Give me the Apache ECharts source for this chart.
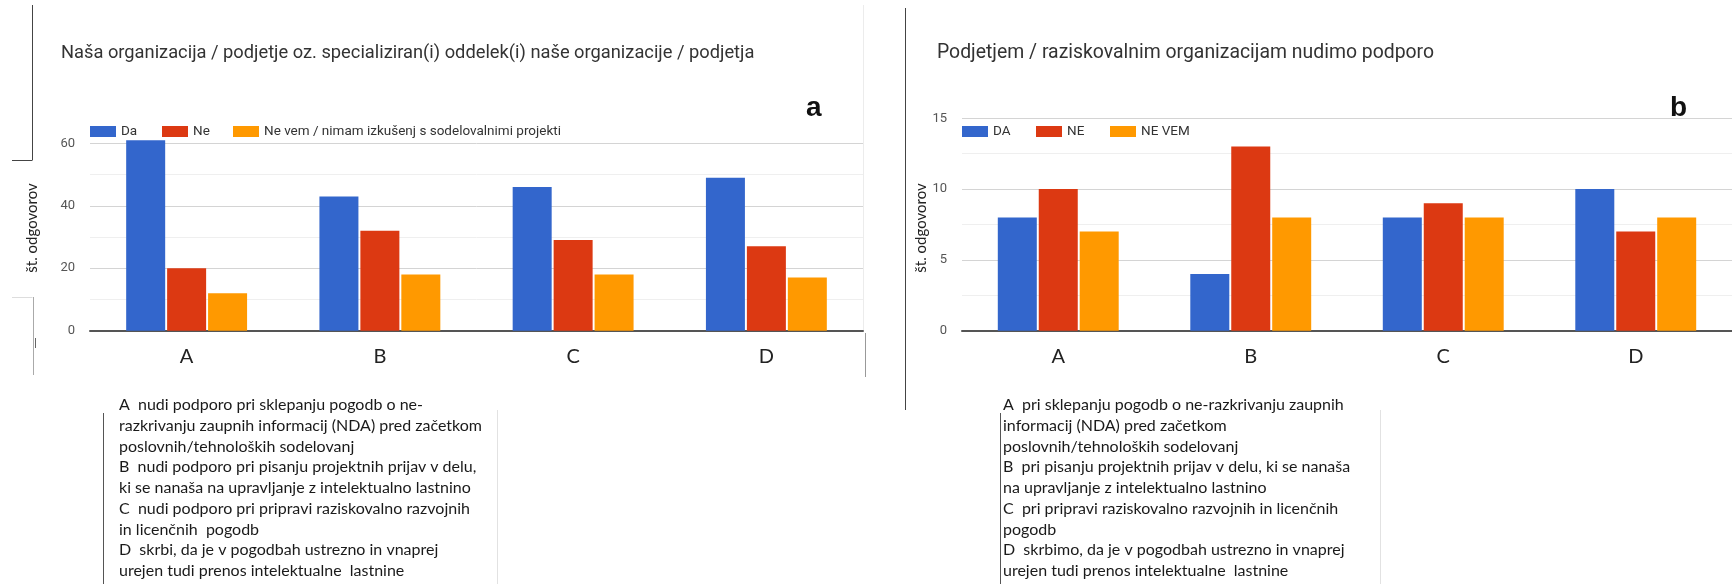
<!DOCTYPE html>
<html>
<head>
<meta charset="utf-8">
<script src="https://cdn.jsdelivr.net/npm/echarts@6/dist/echarts.min.js"></script>
<style>
  html, body { margin: 0; padding: 0; background: #fff; }
  #chart { width: 1732px; height: 584px; }
</style>
</head>
<body>
<div id="chart"></div>
<script>
// Categories and answer counts for the two survey questions
const categories = ['A', 'B', 'C', 'D'];

// Panel a: "Naša organizacija / podjetje ..."
const titleA = 'Naša organizacija / podjetje oz. specializiran(i) oddelek(i) naše organizacije / podjetja';
const seriesNamesA = ['Da', 'Ne', 'Ne vem / nimam izkušenj s sodelovalnimi projekti'];
const daA = [61, 43, 46, 49];
const neA = [20, 32, 29, 27];
const neVemA = [12, 18, 18, 17];

// Panel b: "Podjetjem / raziskovalnim organizacijam nudimo podporo"
const titleB = 'Podjetjem / raziskovalnim organizacijam nudimo podporo';
const seriesNamesB = ['DA', 'NE', 'NE VEM'];
const daB = [8, 4, 8, 10];
const neB = [10, 13, 9, 7];
const neVemB = [7, 8, 8, 8];

const yAxisName = 'št. odgovorov';

// Explanatory notes printed under each panel
const notesA = [
  'A  nudi podporo pri sklepanju pogodb o ne-',
  'razkrivanju zaupnih informacij (NDA) pred začetkom',
  'poslovnih/tehnoloških sodelovanj',
  'B  nudi podporo pri pisanju projektnih prijav v delu,',
  'ki se nanaša na upravljanje z intelektualno lastnino',
  'C  nudi podporo pri pripravi raziskovalno razvojnih',
  'in licenčnih  pogodb',
  'D  skrbi, da je v pogodbah ustrezno in vnaprej',
  'urejen tudi prenos intelektualne  lastnine'
];
const notesB = [
  'A  pri sklepanju pogodb o ne-razkrivanju zaupnih',
  'informacij (NDA) pred začetkom',
  'poslovnih/tehnoloških sodelovanj',
  'B  pri pisanju projektnih prijav v delu, ki se nanaša',
  'na upravljanje z intelektualno lastnino',
  'C  pri pripravi raziskovalno razvojnih in licenčnih',
  'pogodb',
  'D  skrbimo, da je v pogodbah ustrezno in vnaprej',
  'urejen tudi prenos intelektualne  lastnine'
];

const colors = ['#3366cc', '#dc3912', '#ff9900'];
const uiFont = 'Roboto, "Liberation Sans", Arial, sans-serif';
const noteFont = 'Lato, "Open Sans", sans-serif';

const chart = echarts.init(document.getElementById('chart'), null, { renderer: 'canvas' });

function legendItem(name, left, top) {
  return {
    data: [name], left: left, top: top, padding: 0,
    icon: 'rect', itemWidth: 26, itemHeight: 11,
    textStyle: { fontFamily: uiFont, fontSize: 13.5, color: '#333' },
    selectedMode: false
  };
}

function yAxisCfg(gridIndex, max, interval, nameGap, namePadding) {
  return {
    type: 'value', gridIndex: gridIndex, min: 0, max: max, interval: interval,
    name: yAxisName, nameLocation: 'middle', nameGap: nameGap, nameRotate: 90,
    nameTextStyle: { fontFamily: noteFont, fontSize: 15, color: '#222', padding: namePadding },
    axisLine: { show: false }, axisTick: { show: false },
    axisLabel: { fontFamily: uiFont, fontSize: 13, color: '#555', margin: 15 },
    splitLine: { show: true, lineStyle: { color: '#d4d4d4', width: 1 } },
    minorTick: { show: false, splitNumber: 2 },
    minorSplitLine: { show: true, lineStyle: { color: '#efefef', width: 1 } }
  };
}

function xAxisCfg(gridIndex) {
  return {
    type: 'category', gridIndex: gridIndex, data: categories,
    axisLine: { lineStyle: { color: '#555', width: 2 } },
    axisTick: { show: false },
    axisLabel: { fontFamily: noteFont, fontSize: 20, color: '#222', margin: 16 }
  };
}

function barSeries(name, data, idx, axisIdx) {
  return {
    type: 'bar', name: name, data: data,
    xAxisIndex: axisIdx, yAxisIndex: axisIdx,
    barWidth: 39, barGap: '5%', clip: false,
    itemStyle: { color: colors[idx] },
    emphasis: { disabled: true }
  };
}

function lineEl(x1, y1, x2, y2, color, w) {
  return { type: 'line', silent: true, shape: { x1: x1, y1: y1, x2: x2, y2: y2 },
           style: { stroke: color, lineWidth: w || 1 } };
}

function titleStyle(size) {
  return { fontFamily: uiFont, fontSize: size, fontWeight: 'normal', color: '#333' };
}

const option = {
  backgroundColor: '#ffffff',
  animation: false,
  color: colors,
  title: [
    { text: titleA, left: 56, top: 39, textStyle: titleStyle(18.3) },
    { text: titleB, left: 932, top: 38.5, textStyle: titleStyle(19.4) }
  ],
  legend: [
    legendItem(seriesNamesA[0], 90, 124.5),
    legendItem(seriesNamesA[1], 162, 124.5),
    legendItem(seriesNamesA[2], 233, 124.5),
    legendItem(seriesNamesB[0], 962, 124.5),
    legendItem(seriesNamesB[1], 1036, 124.5),
    legendItem(seriesNamesB[2], 1110, 124.5)
  ],
  grid: [
    { left: 90, top: 143.3, width: 773, height: 187.4 },
    { left: 962, top: 118.3, width: 774, height: 212.4 }
  ],
  xAxis: [xAxisCfg(0), xAxisCfg(1)],
  yAxis: [yAxisCfg(0, 60, 20, 50, [0, 0, 0, 18]), yAxisCfg(1, 15, 5, 32, [0, 7, 0, 0])],
  series: [
    barSeries(seriesNamesA[0], daA, 0, 0),
    barSeries(seriesNamesA[1], neA, 1, 0),
    barSeries(seriesNamesA[2], neVemA, 2, 0),
    barSeries(seriesNamesB[0], daB, 0, 1),
    barSeries(seriesNamesB[1], neB, 1, 1),
    barSeries(seriesNamesB[2], neVemB, 2, 1)
  ],
  graphic: [
    // panel frame fragments
    lineEl(32.5, 5, 32.5, 160, '#444', 1),
    lineEl(12, 160.5, 32.5, 160.5, '#444', 1),
    lineEl(12, 297.5, 32.5, 297.5, '#ddd', 1),
    lineEl(33.5, 297, 33.5, 375, '#aaa', 1),
    lineEl(35.5, 338, 35.5, 348, '#666', 1),
    lineEl(863.5, 5, 863.5, 330, '#ececec', 1),
    lineEl(865.5, 333, 865.5, 377, '#999', 1),
    lineEl(905.5, 8, 905.5, 410, '#444', 1),
    // note boxes
    lineEl(103.5, 413, 103.5, 584, '#555', 1),
    lineEl(497.5, 410, 497.5, 584, '#e2e2e2', 1),
    lineEl(1000.5, 413, 1000.5, 584, '#555', 1),
    lineEl(1380.5, 410, 1380.5, 584, '#e2e2e2', 1),
    // panel letters
    { type: 'text', left: 806, top: 94, silent: true,
      style: { text: 'a', font: 'bold 28px "Liberation Sans", Arial, sans-serif', fill: '#111' } },
    { type: 'text', left: 1670, top: 94, silent: true,
      style: { text: 'b', font: 'bold 28px "Liberation Sans", Arial, sans-serif', fill: '#111' } },
    // notes
    { type: 'text', left: 119, top: 394.6, silent: true,
      style: { text: notesA.join('\n'), font: '16px ' + noteFont, fill: '#1a1a1a', lineHeight: 20.75 } },
    { type: 'text', left: 1003, top: 394.6, silent: true,
      style: { text: notesB.join('\n'), font: '16px ' + noteFont, fill: '#1a1a1a', lineHeight: 20.75 } }
  ]
};

chart.setOption(option);
</script>
</body>
</html>
